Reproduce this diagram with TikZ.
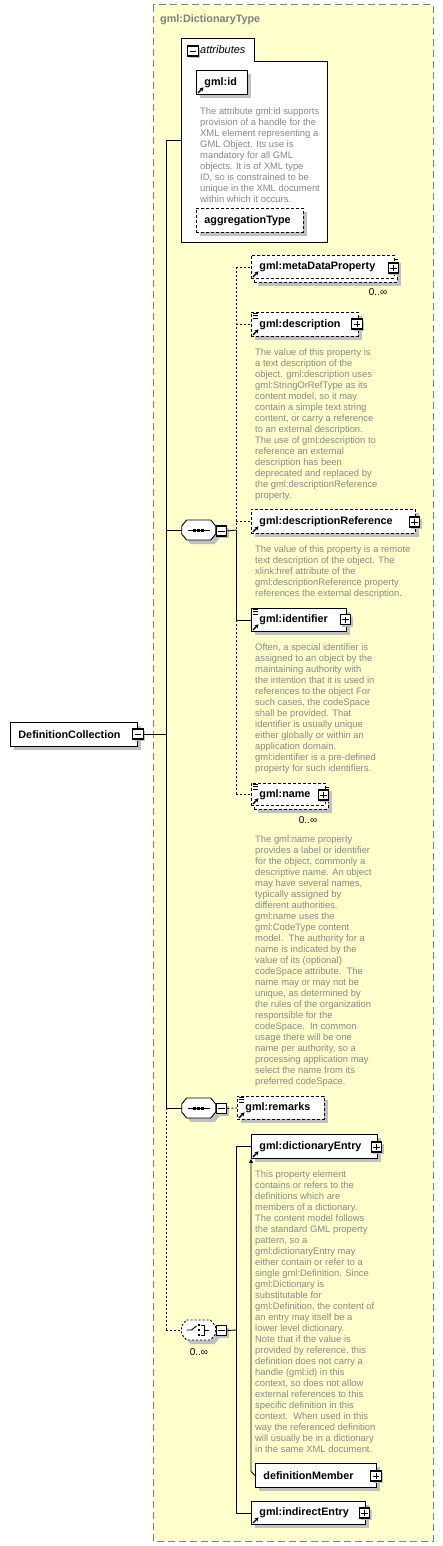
\documentclass[tikz,border=0pt]{standalone}
\usepackage{fontspec}
\setmainfont{Liberation Sans}
\usetikzlibrary{shadows,arrows.meta,calc}
\definecolor{bgyellow}{RGB}{255,255,204}
\definecolor{docgray}{RGB}{136,136,136}
\definecolor{titlegray}{RGB}{128,128,128}
\definecolor{shadowgray}{RGB}{192,192,192}
\tikzset{
  conn/.style={line width=0.9pt},
  dconn/.style={conn, dash pattern=on 2pt off 2pt},
  shadowed/.style={general shadow={fill=shadowgray, draw=none, shadow xshift=4pt, shadow yshift=-4pt}},
  elem/.style={draw, fill=white, line width=0.9pt, anchor=north west, inner xsep=8pt, inner ysep=0pt,
    font=\bfseries\fontsize{10.8}{12}\selectfont},
  opt/.style={dash pattern=on 3pt off 2pt},
  doc/.style={anchor=north west, inner sep=0pt, align=left, text=docgray, font=\fontsize{9.4}{11}\selectfont},
  mult/.style={inner sep=0pt, font=\fontsize{10}{12}\selectfont},
  pmbox/.style={draw, fill=white, line width=1.4pt, minimum width=10.5pt, minimum height=10pt, inner sep=0pt,
    general shadow={fill=shadowgray, draw=none, shadow xshift=2pt, shadow yshift=-2pt}},
  plusbox/.style={pmbox, path picture={
    \draw[line width=0.9pt] ([xshift=2pt]path picture bounding box.west) -- ([xshift=-2pt]path picture bounding box.east)
      ([yshift=-2pt]path picture bounding box.north) -- ([yshift=2pt]path picture bounding box.south);}},
  minusbox/.style={pmbox, path picture={
    \draw[line width=0.9pt] ([xshift=2pt]path picture bounding box.west) -- ([xshift=-2pt]path picture bounding box.east);}},
  refarrow/.style={line width=1.3pt, -{Stealth[length=3.6pt,width=4.2pt]}},
  simpleicon/.style={line width=0.8pt},
  pics/octa/.style={code={
    \fill[shadowgray] (-8,-6) -- (16,-6) -- (21,0) -- (21,8) -- (16,14) -- (-8,14) -- (-13,8) -- (-13,0) -- cycle;
    \draw[conn, fill=white, #1] (-12,-10) -- (12,-10) -- (17,-4) -- (17,4) -- (12,10) -- (-12,10) -- (-17,4) -- (-17,-4) -- cycle;
  }},
  pics/seqicon/.style={code={
    \draw[conn] (-11,0) -- (11,0);
    \fill (-5.7,-1.5) rectangle ++(3,3);
    \fill (-1.5,-1.5) rectangle ++(3,3);
    \fill (2.7,-1.5) rectangle ++(3,3);
  }},
  pics/choicon/.style={code={
    \draw[conn] (-12,0) -- (-7,0) -- (-2,-4);
    \draw[conn] (2,-5) -- (6,-5) -- (6,5) -- (2,5);
    \draw[conn] (6,0) -- (10,0);
    \fill (-0.5,-6) rectangle ++(2.4,2.4);
    \fill (-0.5,-1.2) rectangle ++(2.4,2.4);
    \fill (-0.5,3.6) rectangle ++(2.4,2.4);
  }}
}
\begin{document}
\begin{tikzpicture}[x=1pt,y=-1pt]
\useasboundingbox (0,0) rectangle (443,1546);
% complex type frame
\draw[titlegray, line width=1pt, dash pattern=on 7pt off 4pt, fill=bgyellow] (153,5) rectangle (433,1541);
\node[anchor=base west, inner sep=0pt, text=titlegray, font=\bfseries\fontsize{10.8}{12}\selectfont] (title) at (160,23) {gml:DictionaryType};

% attributes box
\draw[conn, fill=white] (181,242) -- (181,38) -- (254,38) -- (254,61) -- (327,61) -- (327,242) -- cycle;
\node[minusbox] (attrM) at (193,51) {};
\node[anchor=base west, inner sep=0pt, font=\itshape\fontsize{11}{13}\selectfont] (attrlbl) at (200,54) {attributes};
\coordinate (attrL) at (181,140);

\node[elem, shadowed, minimum width=51pt, minimum height=24pt, text width=35pt] (gid) at (196,70) {gml:id};
\node[doc] (gidD) at (200,107) {The attribute gml:id supports\\provision of a handle for the\\XML element representing a\\GML Object. Its use is\\mandatory for all GML\\objects. It is of XML type\\ID, so is constrained to be\\unique in the XML document\\within which it occurs.};
\node[elem, opt, shadowed, minimum width=107pt, minimum height=24pt, text width=91pt] (agg) at (196,208) {aggregationType};

% root element
\node[elem, shadowed, minimum width=127pt, minimum height=24pt, text width=111pt, inner xsep=8pt] (dc) at (10,722) {DefinitionCollection};
\node[minusbox] (dcM) at (138,734) {};

% sequence 1
\node[minimum width=34pt, minimum height=20pt, inner sep=0pt] (seq1) at (198.7,530) {};
\pic at (seq1.center) {octa=solid};
\pic at (seq1.center) {seqicon};
\node[minusbox] (seq1M) at (221.5,531) {};

% metaDataProperty (multiple)
\node[elem, opt, shadowed, minimum width=143pt, minimum height=23pt, text width=127pt] (mdpB) at (254,259) {};
\node[elem, opt, minimum width=143pt, minimum height=23pt, text width=127pt] (mdp) at (251,255) {gml:metaDataProperty};
\node[plusbox] (mdpP) at (393.5,268) {};
\node[mult] (mdpN) at (378,292) {0..∞};

% description
\node[elem, opt, shadowed, minimum width=107pt, minimum height=24pt, text width=91pt] (desc) at (251,312) {gml:description};
\node[plusbox] (descP) at (357,324) {};
\node[doc] (descD) at (255,348) {The value of this property is\\a text description of the\\object. gml:description uses\\gml:StringOrRefType as its\\content model, so it may\\contain a simple text string\\content, or carry a reference\\to an external description.\\The use of gml:description to\\reference an external\\description has been\\deprecated and replaced by\\the gml:descriptionReference\\property.};

% descriptionReference
\node[elem, opt, shadowed, minimum width=164pt, minimum height=24pt, text width=148pt] (dref) at (251,509) {gml:descriptionReference};
\node[plusbox] (drefP) at (414.5,522) {};
\node[doc] (drefD) at (255,545) {The value of this property is a remote\\text description of the object. The\\xlink:href attribute of the\\gml:descriptionReference property\\references the external description.};

% identifier
\node[elem, shadowed, minimum width=95pt, minimum height=23pt, text width=79pt] (ident) at (251,608) {gml:identifier};
\node[plusbox] (identP) at (345.5,619.5) {};
\node[doc] (identD) at (255,643) {Often, a special identifier is\\assigned to an object by the\\maintaining authority with\\the intention that it is used in\\references to the object For\\such cases, the codeSpace\\shall be provided. That\\identifier is usually unique\\either globally or within an\\application domain.\\gml:identifier is a pre-defined\\property for such identifiers.};

% name (multiple)
\node[elem, opt, shadowed, minimum width=74pt, minimum height=22pt, text width=58pt] (nameB) at (254,787) {};
\node[elem, opt, minimum width=74pt, minimum height=22pt, text width=58pt] (name) at (251,783) {gml:name};
\node[plusbox] (nameP) at (323.5,795) {};
\node[mult] (nameN) at (308,820) {0..∞};
\node[doc] (nameD) at (255,835) {The gml:name property\\provides a label or identifier\\for the object, commonly a\\descriptive name. An object\\may have several names,\\typically assigned by\\different authorities.\\gml:name uses the\\gml:CodeType content\\model.\ \ The authority for a\\name is indicated by the\\value of its (optional)\\codeSpace attribute.\ \ The\\name may or may not be\\unique, as determined by\\the rules of the organization\\responsible for the\\codeSpace.\ \ In common\\usage there will be one\\name per authority, so a\\processing application may\\select the name from its\\preferred codeSpace.};

% sequence 2
\node[minimum width=34pt, minimum height=20pt, inner sep=0pt] (seq2) at (198.7,1108) {};
\pic at (seq2.center) {octa=solid};
\pic at (seq2.center) {seqicon};
\node[minusbox] (seq2M) at (221.5,1108.5) {};
\node[elem, opt, shadowed, minimum width=87pt, minimum height=23pt, text width=71pt] (rem) at (237,1096) {gml:remarks};

% choice
\node[minimum width=34pt, minimum height=20pt, inner sep=0pt] (cho) at (198.5,1330) {};
\pic at (cho.center) {octa={dash pattern=on 2pt off 2pt}};
\pic at (cho.center) {choicon};
\node[minusbox] (choM) at (221.5,1330.5) {};
\node[mult] (choN) at (199,1352) {0..∞};

\node[elem, shadowed, minimum width=126pt, minimum height=24pt, text width=110pt] (de) at (251,1134) {gml:dictionaryEntry};
\node[plusbox] (deP) at (376.5,1147) {};
\node[doc] (deD) at (255,1170) {This property element\\contains or refers to the\\definitions which are\\members of a dictionary.\\The content model follows\\the standard GML property\\pattern, so a\\gml:dictionaryEntry may\\either contain or refer to a\\single gml:Definition. Since\\gml:Dictionary is\\substitutable for\\gml:Definition, the content of\\an entry may itself be a\\lower level dictionary.\\Note that if the value is\\provided by reference, this\\definition does not carry a\\handle (gml:id) in this\\context, so does not allow\\external references to this\\specific definition in this\\context.\ \ When used in this\\way the referenced definition\\will usually be in a dictionary\\in the same XML document.};

\node[elem, shadowed, minimum width=121pt, minimum height=24pt, text width=105pt, inner xsep=8pt] (dm) at (255,1463) {definitionMember};
\node[plusbox] (dmP) at (376,1476) {};

\node[elem, shadowed, minimum width=114pt, minimum height=23pt, text width=98pt] (ie) at (251,1501) {gml:indirectEntry};
\node[plusbox] (ieP) at (364.5,1513) {};

% icons: reference arrows
\foreach \n in {gid,mdp,desc,dref,ident,name,rem,de,ie}
  \draw[refarrow] ([shift={(2,-2)}]\n.south west) -- ++(5.5,-5.5);
% icons: simple content
\foreach \n in {desc,ident,name,rem}
  \draw[simpleicon] ([shift={(1.5,1)}]\n.north west) -- ++(5,0)
    ([shift={(1.5,3.5)}]\n.north west) -- ++(5,0)
    ([shift={(1.5,6)}]\n.north west) -- ++(5,0);

% main connectors
\coordinate (v0) at (166,140);
\coordinate (v2) at (166,734);
\coordinate (h1) at (236,530);
\coordinate (k1) at (236,1330);
\draw[conn] (attrL) -- (v0) -- (v0 |- seq2.west);
\draw[dconn] (v0 |- seq2.west) -- (v0 |- cho.west);
\draw[conn] (dcM.east) -- (v2);
\draw[conn] (v0 |- seq1.west) -- (seq1.west);
\draw[conn] (v0 |- seq2.west) -- (seq2.west);
\draw[dconn] (v0 |- cho.west) -- (cho.west);

% sequence 1 children
\draw[conn] (seq1M.east) -- (h1);
\draw[dconn] (h1 |- mdp.west) -- (h1);
\draw[conn] (h1) -- (h1 |- ident.west);
\draw[dconn] (h1 |- ident.west) -- (h1 |- name.west);
\draw[dconn] (h1 |- mdp.west) -- (mdp.west);
\draw[dconn] (h1 |- desc.west) -- (desc.west);
\draw[dconn] (h1 |- dref.west) -- (dref.west);
\draw[conn] (h1 |- ident.west) -- (ident.west);
\draw[dconn] (h1 |- name.west) -- (name.west);

% sequence 2 child
\draw[dconn] (seq2M.east) -- (rem.west);

% choice children
\draw[conn] (choM.east) -- (k1);
\draw[conn] (k1 |- de.west) -- (k1 |- ie.west);
\draw[conn] (k1 |- de.west) -- (de.west);
\draw[conn] (k1 |- ie.west) -- (ie.west);

% substitution group
\draw[conn, -{Triangle[length=4pt,width=4pt]}] (dm.west) -- ++(-4,-4) -- (de.south west);
\end{tikzpicture}
\end{document}
